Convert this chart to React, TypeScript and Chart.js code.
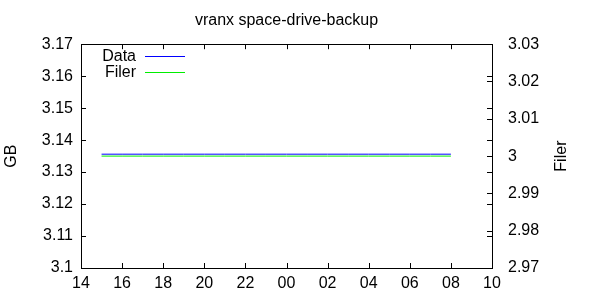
import React, { useEffect, useRef } from "react";
import { Chart, registerables } from "chart.js";

Chart.register(...registerables);

// hours since 14:00 on the x axis
const hours = [1, 2, 3, 4, 5, 6, 7, 8, 9, 10, 11, 12, 13, 14, 15, 16, 17, 18];
const dataGB = [3.1356, 3.1356, 3.1356, 3.1356, 3.1356, 3.1356, 3.1356, 3.1356, 3.1356, 3.1356, 3.1356, 3.1356, 3.1356, 3.1356, 3.1356, 3.1356, 3.1356, 3.1356];
const filer = [3, 3, 3, 3, 3, 3, 3, 3, 3, 3, 3, 3, 3, 3, 3, 3, 3, 3];
const startHour = 14;
const titleText = "vranx space-drive-backup";
const leftTitle = "GB";
const rightTitle = "Filer";

const FONT = "Liberation Sans, Arial, sans-serif";
const FS = 16;

const fmt = (v: any) => String(Number(Number(v).toFixed(4)));

const framePlugin = {
  id: "gnuFrame",
  afterDraw(chart: any) {
    const { ctx, chartArea: a, scales } = chart;
    ctx.save();
    ctx.strokeStyle = "#000";
    ctx.lineWidth = 1;
    ctx.strokeRect(Math.round(a.left) + 0.5, Math.round(a.top) + 0.5, Math.round(a.right - a.left), Math.round(a.bottom - a.top));
    const TL = 5;
    ctx.beginPath();
    scales.x.ticks.forEach((t: any) => {
      const px = Math.round(scales.x.getPixelForValue(t.value)) + 0.5;
      ctx.moveTo(px, a.bottom);
      ctx.lineTo(px, a.bottom - TL);
      ctx.moveTo(px, a.top);
      ctx.lineTo(px, a.top + TL);
    });
    scales.y.ticks.forEach((t: any) => {
      const py = Math.round(scales.y.getPixelForValue(t.value)) + 0.5;
      ctx.moveTo(a.left, py);
      ctx.lineTo(a.left + TL, py);
      ctx.moveTo(a.right, py);
      ctx.lineTo(a.right - TL, py);
    });
    scales.y1.ticks.forEach((t: any) => {
      const py = Math.round(scales.y1.getPixelForValue(t.value)) + 0.5;
      ctx.moveTo(a.right, py);
      ctx.lineTo(a.right - TL, py);
    });
    ctx.stroke();

    // legend (gnuplot style: text then sample line)
    ctx.font = `${FS}px ${FONT}`;
    ctx.textBaseline = "middle";
    ctx.textAlign = "right";
    chart.data.datasets.forEach((ds: any, i: number) => {
      const y = a.top + 12 + i * 16;
      ctx.fillStyle = "#000";
      ctx.fillText(ds.label, a.left + 55, y);
      ctx.strokeStyle = ds.borderColor;
      ctx.beginPath();
      ctx.moveTo(a.left + 64, Math.round(y) + 0.5);
      ctx.lineTo(a.left + 104, Math.round(y) + 0.5);
      ctx.stroke();
    });

    // axis titles
    ctx.fillStyle = "#000";
    ctx.textAlign = "center";
    ctx.save();
    ctx.translate(12, (a.top + a.bottom) / 2);
    ctx.rotate(-Math.PI / 2);
    ctx.fillText(leftTitle, 0, 0);
    ctx.restore();
    ctx.save();
    ctx.translate(562, (a.top + a.bottom) / 2);
    ctx.rotate(-Math.PI / 2);
    ctx.fillText(rightTitle, 0, 0);
    ctx.restore();
    ctx.restore();
  },
};

export default function App() {
  const ref = useRef<HTMLCanvasElement>(null);
  useEffect(() => {
    if (!ref.current) return;
    const chart = new Chart(ref.current, {
      type: "line",
      data: {
        datasets: [
          {
            label: "Data",
            data: hours.map((h, i) => ({ x: h, y: dataGB[i] })),
            borderColor: "#0000ff",
            borderWidth: 1,
            pointRadius: 0,
            yAxisID: "y",
          },
          {
            label: "Filer",
            data: hours.map((h, i) => ({ x: h, y: filer[i] })),
            borderColor: "#00ee00",
            borderWidth: 1,
            pointRadius: 0,
            yAxisID: "y1",
          },
        ],
      },
      options: {
        animation: false,
        responsive: false,
        devicePixelRatio: 1,
        layout: { padding: 0 },
        plugins: {
          legend: { display: false },
          tooltip: { enabled: false },
          title: {
            display: true,
            text: titleText,
            fullSize: false,
            color: "#000",
            font: { family: FONT, size: 16, weight: "normal" },
            padding: { top: 11, bottom: 14 },
          },
        },
        scales: {
          x: {
            type: "linear",
            min: 0,
            max: 20,
            position: "bottom",
            grid: { display: false, drawTicks: false },
            border: { display: false },
            ticks: {
              stepSize: 2,
              color: "#000",
              padding: 6,
              maxRotation: 0,
              font: { family: FONT, size: FS },
              callback: (v: any) => String((startHour + Number(v)) % 24).padStart(2, "0"),
            },
            afterFit: (s: any) => { s.height = 32; },
          },
          y: {
            type: "linear",
            min: 3.1,
            max: 3.17,
            position: "left",
            grid: { display: false, drawTicks: false },
            border: { display: false },
            ticks: { stepSize: 0.01, color: "#000", padding: 8, font: { family: FONT, size: FS }, callback: fmt },
            afterFit: (s: any) => { s.width = 81; },
          },
          y1: {
            type: "linear",
            min: 2.97,
            max: 3.03,
            position: "right",
            grid: { display: false, drawTicks: false },
            border: { display: false },
            ticks: { stepSize: 0.01, color: "#000", padding: 16, font: { family: FONT, size: FS }, callback: fmt },
            afterFit: (s: any) => { s.width = 108; },
          },
        },
      },
      plugins: [framePlugin],
    });
    return () => chart.destroy();
  }, []);
  return (
    <div style={{ position: "absolute", left: 0, top: 0, width: 600, height: 300, background: "#fff" }}>
      <canvas ref={ref} width={600} height={300} />
    </div>
  );
}
